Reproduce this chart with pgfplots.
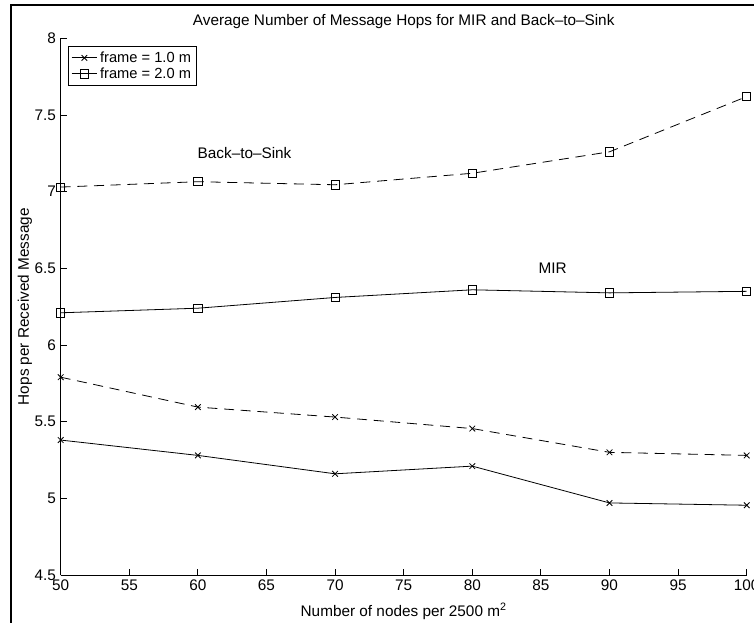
\documentclass[border=0pt]{standalone}
\usepackage{fontspec}
\setmainfont{Liberation Sans}
\usepackage{pgfplots}
\pgfplotsset{compat=1.18}

% Average hops per received message, x = nodes per 2500 m^2
% MIR, frame = 1.0 m
\newcommand{\mirone}{(50,5.38) (60,5.28) (70,5.16) (80,5.21) (90,4.97) (100,4.955)}
% MIR, frame = 2.0 m
\newcommand{\mirtwo}{(50,6.21) (60,6.24) (70,6.31) (80,6.36) (90,6.34) (100,6.35)}
% Back-to-Sink, frame = 1.0 m
\newcommand{\btsone}{(50,5.79) (60,5.595) (70,5.53) (80,5.455) (90,5.30) (100,5.28)}
% Back-to-Sink, frame = 2.0 m
\newcommand{\btstwo}{(50,7.03) (60,7.065) (70,7.045) (80,7.12) (90,7.26) (100,7.62)}

\begin{document}
\begin{tikzpicture}[x=0.75pt,y=0.75pt]
\clip (0,0) rectangle (754,622);
\begin{axis}[
  at={(45.525pt,35.25pt)}, anchor=south west,
  scale only axis, width=514.5pt, height=402.5pt,
  font=\fontsize{11.5}{13.5}\selectfont,
  /pgf/number format/assume math mode=true,
  xmin=50, xmax=100, ymin=4.5, ymax=8,
  enlargelimits=false,
  axis x line=bottom, axis y line=left,
  axis line style={-, line width=0.6pt},
  xtick={50,55,...,100},
  ytick={4.5,5,...,8},
  tick align=inside,
  major tick length=4.5pt,
  tick style={line width=0.6pt, black},
  yticklabel style={font=\fontsize{11.5}{13.5}\selectfont},
  xticklabel style={font=\fontsize{11.5}{13.5}\selectfont},
  title={Average Number of Message Hops for MIR and Back–to–Sink},
  title style={at={(axis description cs:0.5,1.0155)}, anchor=center},
  xlabel={Number of nodes per 2500 m\textsuperscript{2}},
  xlabel style={at={(axis description cs:0.5,-0.068)}, anchor=center},
  ylabel={Hops per Received Message},
  ylabel style={at={(axis description cs:-0.052,0.5)}, anchor=center},
  legend style={at={(axis description cs:0.011,0.986)}, anchor=north west,
    draw=black, line width=0.6pt, fill=white, inner sep=2pt,
    font=\fontsize{11}{13}\selectfont, row sep=-1.5pt,
    cells={anchor=west},
    /tikz/every even column/.append style={column sep=4pt}},
  legend cell align=left,
  legend image code/.code={
    \draw[mark repeat=2, mark phase=2] plot coordinates {(0pt,0pt) (9.5pt,0pt) (19pt,0pt)};
  },
  every axis plot/.append style={black, line width=0.6pt,
    mark options={solid, line width=0.6pt}},
]
\addplot[mark=x, mark size=3pt] coordinates {\mirone};
\addplot[mark=square, mark size=3.1pt] coordinates {\mirtwo};
\addplot[mark=x, mark size=3pt, dash pattern=on 7.5pt off 5pt] coordinates {\btsone};
\addplot[mark=square, mark size=3.1pt, dash pattern=on 7.5pt off 5pt] coordinates {\btstwo};
\legend{frame = 1.0 m, frame = 2.0 m}
\node[anchor=center] at (axis cs:63.4,7.25) {Back–to–Sink};
\node[anchor=center] at (axis cs:85.85,6.5) {MIR};
\end{axis}
\draw[line width=1.5pt] (11,-5) -- (11,617) -- (760,617);
\end{tikzpicture}
\end{document}
